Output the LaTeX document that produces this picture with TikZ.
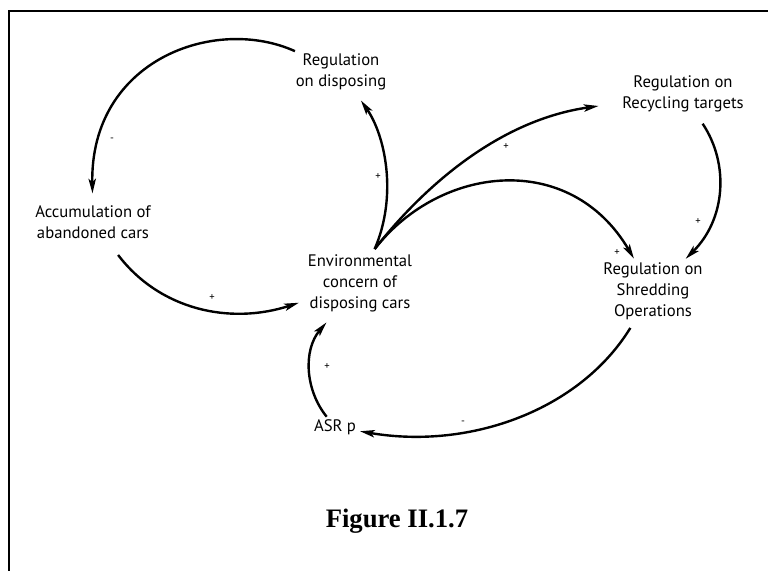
\documentclass[tikz,border=0pt]{standalone}
\usepackage{fontspec}
\setmainfont{PT Sans}
\newfontfamily\capfont{Liberation Serif}
\usetikzlibrary{arrows.meta}

\begin{document}
\begin{tikzpicture}[x=0.75pt, y=-0.75pt,
    box/.style={align=center, inner sep=2pt, outer sep=0pt, font=\fontsize{12.5}{15.75}\selectfont},
    link/.style={line width=1.8pt, -{Stealth[length=11pt, width=5.5pt, inset=2.5pt]}},
    sign/.style={font=\footnotesize, inner sep=0pt}]
    \useasboundingbox (0, 0) rectangle (768, 571);
    \draw[line width=1.5pt] (9, 571) -- (9, 11) -- (768, 11);

    \node[box] (disp) at (341, 72) {Regulation\\on disposing};
    \node[box] (acc) at (93, 222) {Accumulation of\\abandoned cars};
    \node[box] (env) at (360, 283) {Environmental\\concern of\\disposing cars};
    \node[box] (recyc) at (683, 94) {Regulation on\\Recycling targets};
    \node[box] (shred) at (653, 291) {Regulation on\\Shredding\\Operations};
    \node[box] (asr) at (335, 427) {ASR p};
    \node[font=\capfont\bfseries\fontsize{20}{24}\selectfont] (cap) at (397, 521) {Figure II.1.7};
    \coordinate (root) at ([xshift=11pt, yshift=2pt]env.north);

    \draw[link, shorten >=7pt] (disp) .. controls (215, 15) and (90, 60) .. (acc);
    \draw[link, shorten <=13pt, shorten >=5pt] (acc) .. controls (160, 310) and (230, 325) .. (env);
    \draw[link, shorten >=7pt] (root) .. controls (398, 195) and (385, 135) .. (disp);
    \draw[link, shorten >=16pt] (root) .. controls (425, 185) and (500, 120) .. (recyc);
    \draw[link, shorten >=1pt] (root) .. controls (440, 165) and (570, 150) .. (shred);
    \draw[link, shorten <=8pt, shorten >=1pt] (recyc) .. controls (730, 165) and (725, 220) .. (shred);
    \draw[link, shorten <=5pt, shorten >=1pt] (shred) .. controls (580, 410) and (470, 450) .. (asr);
    \draw[link, shorten >=8pt] (asr) .. controls (305, 390) and (303, 350) .. (env);

    \node[sign] (sgnDA) at (112, 140) {-};
    \node[sign] (sgnAE) at (212, 298) {+};
    \node[sign] (sgnED) at (378, 177) {+};
    \node[sign] (sgnER) at (506, 147) {+};
    \node[sign] (sgnES) at (617, 253) {+};
    \node[sign] (sgnRS) at (698, 222) {+};
    \node[sign] (sgnSA) at (463, 423) {-};
    \node[sign] (sgnAZ) at (327, 367) {+};
\end{tikzpicture}
\end{document}
